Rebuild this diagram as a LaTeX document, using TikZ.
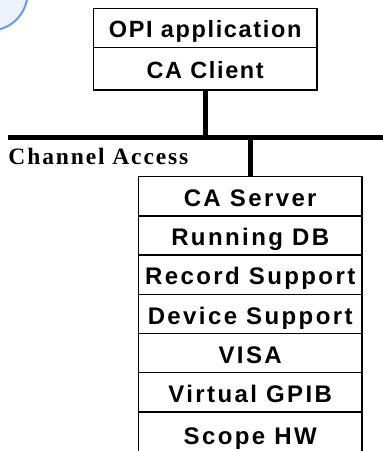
\documentclass[tikz,border=0pt]{standalone}
\usepackage{fontspec}
\setmainfont{Liberation Serif}
\setsansfont{Liberation Sans}
\usetikzlibrary{positioning}

\begin{document}
\begin{tikzpicture}[x=1pt, y=-1pt,
    layer/.style={draw, line width=1.3pt, outer sep=0pt, inner sep=0pt,
      minimum width=223.7pt, minimum height=39.2pt,
      text height=20.5pt, text depth=0pt,
      font=\sffamily\bfseries\fontsize{24}{27}\selectfont\addfontfeature{LetterSpace=10}},
    toplayer/.style={layer, text height=18.8pt,
      font=\sffamily\bfseries\fontsize{23.5}{27}\selectfont\addfontfeature{LetterSpace=7}},
    bus/.style={line width=5pt}]
            \useasboundingbox (0,0) rectangle (383,451);
            \draw[fill={rgb,255:red,238;green,242;blue,252}, draw={rgb,255:red,102;green,153;blue,248}, line width=2pt]
              (-10,-7) circle (37.5);
            % client side
            \node[toplayer, minimum height=39pt] (opi) at (205.2,27.8) {OPI application};
            \node[toplayer, minimum height=42.7pt, below=0pt of opi] (client) {CA Client};
            % server side
            \node[layer] (server) at (250.2,196.3) {CA Server};
            \node[layer, below=0pt of server] (db) {Running DB};
            \node[layer, below=0pt of db] (rec) {Record Support};
            \node[layer, below=0pt of rec] (dev) {Device Support};
            \node[layer, below=0pt of dev] (visa) {VISA};
            \node[layer, below=0pt of visa] (gpib) {Virtual GPIB};
            \node[layer, minimum height=44pt, below=0pt of gpib] (hw) {Scope HW};
            % the bus
            \coordinate (busL) at (8.3,137);
            \coordinate (busR) at (392,137);
            \draw[bus] (busL) -- (busR);
            \draw[bus] (client.south) -- (client.south |- busL);
            \draw[bus] (server.north |- busL) -- (server.north);
            \node[anchor=base west, inner sep=0pt,
              font=\bfseries\fontsize{23.5}{27}\selectfont\addfontfeature{LetterSpace=8}]
              (ca) at (8.3,164.3) {Channel Access};
        \end{tikzpicture}
\end{document}
